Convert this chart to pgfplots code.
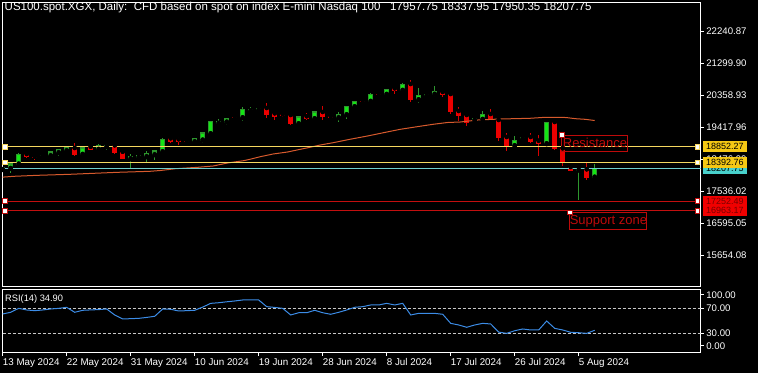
\documentclass[border=0pt]{standalone}
\usepackage{fontspec}
\setmainfont{Liberation Sans}
\usepackage{pgfplots}
\pgfplotsset{compat=1.18}
\usepackage{pgfplotstable}

\definecolor{wickG}{RGB}{45,150,45}
\definecolor{bodyG}{RGB}{20,230,20}
\definecolor{candR}{RGB}{235,0,0}
\definecolor{wickR}{RGB}{215,0,0}
\definecolor{maC}{RGB}{215,90,45}
\definecolor{lvlY}{RGB}{245,215,95}
\definecolor{boxY}{RGB}{245,200,20}
\definecolor{lvlC}{RGB}{110,205,205}
\definecolor{boxC}{RGB}{72,209,204}
\definecolor{lvlR}{RGB}{195,15,15}
\definecolor{boxR}{RGB}{240,0,0}
\definecolor{txtR}{RGB}{120,0,0}
\definecolor{annR}{RGB}{190,10,10}
\definecolor{rsiB}{RGB}{60,140,230}
\definecolor{dashG}{RGB}{200,200,200}

\pgfplotstableread{
i O H L C
0 18181.8 18270.2 18137.6 18234.8
1 18217.2 18382.1 18087.6 18343.8
2 18343.8 18667.8 18305.5 18629.5
5 18591.2 18623.6 18573.5 18603.0
6 18588.2 18726.7 18558.8 18697.2
7 18676.6 18776.7 18579.4 18756.1
8 18735.5 18873.9 18688.4 18823.8
10 18629.5 18844.5 18608.9 18815.0
12 18776.7 18923.9 18756.1 18873.9
13 18853.3 18932.8 18756.1 18873.9
16 18499.9 18638.3 18194.8 18558.8
17 18541.1 18588.2 18532.3 18579.4
18 18558.8 18717.8 18402.7 18638.3
19 18617.7 18747.3 18470.4 18726.7
20 18706.0 19100.7 18676.6 19071.2
24 18999.7 19118.4 18962.2 19080.0
25 19050.6 19256.8 18971.1 19256.8
26 19236.1 19610.2 19212.6 19601.3
27 19542.4 19669.1 19462.9 19589.5
28 19580.7 19707.3 19483.5 19689.7
30 19707.3 20013.6 19610.2 19954.7
31 19913.5 20031.3 19854.6 19954.7
32 19942.9 19987.0 19940.0 19984.2
37 19530.6 19766.2 19483.5 19728.0
39 19677.9 19904.7 19619.0 19875.2
42 19707.3 19866.4 19580.7 19807.5
43 19795.7 20060.7 19677.9 20043.1
44 20031.3 20208.0 20013.6 20190.3
46 20190.3 20425.9 20169.7 20396.5
48 20396.5 20561.4 20384.7 20543.7
50 20514.3 20720.4 20493.6 20691.0
52 20237.4 20573.2 20149.1 20367.0
53 20358.2 20405.3 20352.3 20399.4
54 20396.5 20640.9 20317.0 20464.2
59 19639.6 19689.7 19619.0 19669.1
60 19660.2 19895.8 19571.9 19807.5
64 18882.7 19168.4 18873.9 19041.8
65 19091.8 19133.1 19086.0 19127.2
68 18941.6 19580.7 18912.2 19571.9
72 18167.1 18225.0 17274.8 18202.4
74 17957.75 18337.95 17950.35 18207.75
}\greencandles

\pgfplotstableread{
i O H L C
3 18638.3 18697.2 18511.7 18550.0
4 18558.8 18608.9 18470.4 18529.3
9 18815.0 18953.4 18570.6 18617.7
11 18853.3 18859.2 18756.1 18765.0
14 18894.4 18923.9 18647.1 18676.6
15 18706.0 18756.1 18482.2 18499.9
21 19100.7 19130.1 18953.4 18991.7
22 19071.2 19139.0 18912.2 18982.9
23 19026.2 19035.0 18993.8 19002.6
29 19733.8 19757.4 19669.1 19710.3
33 19993.0 20131.4 19707.3 19778.0
34 19836.9 19854.6 19639.6 19728.0
35 19807.5 19816.3 19742.7 19766.2
36 19786.9 19792.8 19483.5 19521.8
38 19748.6 19845.8 19639.6 19660.2
40 19875.2 20051.9 19639.6 19728.0
41 19748.6 19751.5 19707.3 19713.2
45 20208.0 20249.2 20140.3 20169.7
47 20414.1 20443.6 20355.3 20375.9
49 20573.2 20602.6 20414.1 20484.8
51 20699.8 20817.6 20169.7 20237.4
55 20464.2 20514.3 20325.8 20367.0
56 20405.3 20425.9 19807.5 19889.9
57 19904.7 20022.5 19601.3 19766.2
58 19786.9 19795.7 19462.9 19542.4
61 19816.3 19963.6 19639.6 19669.1
62 19639.6 19669.1 19030.0 19118.3
63 19139.0 19265.6 18735.5 18882.7
66 19139.0 19265.6 18971.1 18991.7
67 19030.0 19197.9 18588.2 18932.8
69 19580.7 19610.2 18756.1 18794.4
70 18806.2 18823.8 18276.1 18402.7
71 18255.4 18276.1 18128.8 18146.5
73 18187.7 18393.9 17872.6 17940.3
}\redcandles

\begin{document}
\begin{tikzpicture}[x=1pt,y=1pt]
\fill[black] (0,0) rectangle (758,373);

\begin{axis}[
  at={(2.7pt,86.3pt)}, anchor=south west,
  width=698pt, height=284pt, scale only axis,
  xmin=0, xmax=87.25, ymin=14730.3, ymax=23094.1,
  axis background/.style={fill=black},
  axis line style={white, line width=1pt},
  xtick=\empty,
  ytick={15654.08,16595.05,17536.02,18476.99,19417.96,20358.93,21299.90,22240.87},
  yticklabels={15654.08,16595.05,17536.02,18476.99,19417.96,20358.93,21299.90,22240.87},
  ytick pos=right, yticklabel pos=right, tick align=outside, major tick length=3pt,
  tick style={white, line width=1pt},
  yticklabel style={font=\fontsize{9.6}{10}\selectfont, text=white, anchor=west, inner sep=0pt, xshift=2.5pt},
  scaled y ticks=false,
]
% green wicks
\addplot[only marks, mark=none, forget plot,
  error bars/.cd, y dir=both, y explicit, error mark=none,
  error bar style={line width=1pt, draw=wickG}]
  table[x=i, y=O, y error plus expr=\thisrow{H}-\thisrow{O}, y error minus expr=\thisrow{O}-\thisrow{L}] {\greencandles};
% green body outline
\addplot[only marks, mark=none, forget plot,
  error bars/.cd, y dir=plus, y explicit, error mark=none,
  error bar style={line width=5pt, draw=wickG}]
  table[x=i, y expr=\thisrow{O}-15, y error plus expr=\thisrow{C}-\thisrow{O}+30] {\greencandles};
% green body fill
\addplot[only marks, mark=none, forget plot,
  error bars/.cd, y dir=plus, y explicit, error mark=none,
  error bar style={line width=3pt, draw=bodyG}]
  table[x=i, y expr=\thisrow{O}+15, y error plus expr={max(\thisrow{C}-\thisrow{O}-30,0)}] {\greencandles};
% red wicks
\addplot[only marks, mark=none, forget plot,
  error bars/.cd, y dir=both, y explicit, error mark=none,
  error bar style={line width=1pt, draw=wickR}]
  table[x=i, y=O, y error plus expr=\thisrow{H}-\thisrow{O}, y error minus expr=\thisrow{O}-\thisrow{L}] {\redcandles};
% red bodies
\addplot[only marks, mark=none, forget plot,
  error bars/.cd, y dir=minus, y explicit, error mark=none,
  error bar style={line width=5pt, draw=candR}]
  table[x=i, y=O, y error minus expr=\thisrow{O}-\thisrow{C}] {\redcandles};

% moving average
\addplot[maC, line width=1pt] coordinates {
(-0.3,17952.1) (1.4,17981.6) (4.4,18011.0) (8.4,18040.5) (11.4,18070.0) (14.4,18099.4)
(18.4,18128.8) (19.7,18152.4) (21.6,18205.4) (24.4,18246.6) (26.3,18284.9) (28.1,18373.2)
(30.1,18441.0) (30.9,18482.2) (32.2,18558.8) (33.8,18638.3) (35.6,18697.2) (37.2,18776.7)
(38.4,18835.6) (39.7,18903.4) (41.3,18971.1) (43.4,19071.2) (45.6,19168.4) (47.6,19265.6)
(49.7,19365.7) (51.8,19442.3) (53.8,19513.0) (55.6,19566.0) (57.2,19580.7) (59.4,19639.6)
(62.2,19669.1) (65.9,19689.7) (67.8,19719.2) (70.4,19713.0) (71.6,19678.0) (72.8,19660.2)
(74,19624.8)};

% level lines
\addplot[lvlC, line width=1pt] coordinates {(0,18207.75) (87.25,18207.75)};
\addplot[lvlY, line width=1pt, mark=square*, mark size=2.2pt,
  mark options={fill=white, draw=lvlY, line width=0.8pt}]
  coordinates {(0.29,18852.27) (86.83,18852.27)};
\addplot[lvlY, line width=1pt, mark=square*, mark size=2.2pt,
  mark options={fill=white, draw=lvlY, line width=0.8pt}]
  coordinates {(0.29,18392.76) (86.83,18392.76)};
\addplot[lvlR, line width=1pt, mark=square*, mark size=2.2pt,
  mark options={fill=white, draw=lvlR, line width=0.8pt}]
  coordinates {(0.29,17252.49) (86.83,17252.49)};
\addplot[lvlR, line width=1pt, mark=square*, mark size=2.2pt,
  mark options={fill=white, draw=lvlR, line width=0.8pt}]
  coordinates {(0.29,16963.17) (86.83,16963.17)};

% annotation boxes
\draw[annR, line width=1pt] (axis cs:69.91,19197.9) rectangle (axis cs:78.16,18712.0);
\node[text=annR, font=\fontsize{13}{14}\selectfont, inner sep=0pt] at (axis cs:74.04,18955) {Resistance};
\draw[annR, line width=1pt] (axis cs:70.91,16915.5) rectangle (axis cs:80.53,16414.9);
\node[text=annR, font=\fontsize{13}{14}\selectfont, inner sep=0pt] at (axis cs:75.72,16665) {Support zone};
\addplot[only marks, mark=square*, mark size=2.2pt, mark options={fill=white, draw=annR, line width=0.8pt}]
  coordinates {(69.91,19197.9) (70.91,16915.5)};

\coordinate (Y1) at (axis cs:87.25,18852.27);
\coordinate (Y2) at (axis cs:87.25,18392.76);
\coordinate (C1) at (axis cs:87.25,18207.75);
\coordinate (R1) at (axis cs:87.25,17252.49);
\coordinate (R2) at (axis cs:87.25,16963.17);
\end{axis}

\tikzset{pricebox/.style={inner sep=0pt, minimum width=44pt, minimum height=10.5pt, anchor=west, font=\fontsize{9}{10}\selectfont}}
\node[pricebox, fill=boxC, text=black] at ([xshift=2pt]C1) {18207.75};
\node[pricebox, fill=boxY, text=black] at ([xshift=2pt]Y1) {18852.27};
\node[pricebox, fill=boxY, text=black] at ([xshift=2pt]Y2) {18392.76};
\node[pricebox, fill=boxR, text=txtR] at ([xshift=2pt]R1) {17252.49};
\node[pricebox, fill=boxR, text=txtR] at ([xshift=2pt]R2) {16963.17};

% RSI panel
\begin{axis}[
  at={(2.7pt,20.5pt)}, anchor=south west,
  width=698pt, height=63pt, scale only axis,
  xmin=0, xmax=87.25, ymin=-0.64, ymax=100.16,
  axis background/.style={fill=black},
  axis line style={white, line width=1pt},
  xtick={0,8,16,24,32,40,48,56,64,72},
  xticklabels={13 May 2024,22 May 2024,31 May 2024,10 Jun 2024,19 Jun 2024,28 Jun 2024,8 Jul 2024,17 Jul 2024,26 Jul 2024,5 Aug 2024},
  ytick={9.8,30,70,91.4},
  yticklabels={0.00,30.00,70.00,100.00},
  xtick pos=bottom, ytick pos=right, yticklabel pos=right,
  tick align=outside, major tick length=3pt,
  tick style={white, line width=1pt},
  yticklabel style={font=\fontsize{9.6}{10}\selectfont, text=white, anchor=west, inner sep=0pt, xshift=2.5pt},
  xticklabel style={font=\fontsize{9.8}{10}\selectfont, text=white, anchor=north west, inner sep=0pt, yshift=-3pt},
]
\addplot[dashG, line width=0.8pt, dash pattern=on 3pt off 2pt] coordinates {(0,70) (87.25,70)};
\addplot[dashG, line width=0.8pt, dash pattern=on 3pt off 2pt] coordinates {(0,30) (87.25,30)};
\addplot[rsiB, line width=1pt] coordinates {
(0,61) (1,63.7) (2,70) (3,67.4) (4,66.3) (5,67.4) (6,69) (7,70) (8,71.6) (9,63.7)
(10,66.9) (11,67.5) (12,68) (13,69) (14,59.4) (15,53) (16,53.5) (17,54) (18,55.5) (19,57.3)
(20,69) (21,68.5) (22,65.8) (23,66.3) (24,66.9) (25,72) (26,78) (27,79) (28,80.5) (29,81.8)
(30,83.4) (31,83.4) (32,83.4) (33,72.7) (34,71.5) (35,70) (36,59.4) (37,63) (38,63) (39,66.9)
(40,63) (41,60.5) (42,63.7) (43,67.4) (44,71.7) (45,72.7) (46,75.4) (47,75.4) (48,78) (49,75.4)
(50,78) (51,59.4) (52,62) (53,62) (54,62) (55,60.5) (56,46) (57,43.4) (58,39.7) (59,43.4)
(60,46) (61,45) (62,32) (63,30) (64,34.2) (65,37) (66,35.4) (67,35.4) (68,49.8) (69,38)
(70,35.4) (71,31.7) (72,31) (73,30) (74,34.9)};
\end{axis}

\node[anchor=west, text=white, inner sep=0pt, font=\fontsize{11.5}{12}\selectfont]
  at (4.5,365) {US100.spot.XGX, Daily:\ \ CFD based on spot on index E-mini Nasdaq 100\ \ \ 17957.75 18337.95 17950.35 18207.75};
\node[anchor=west, text=white, inner sep=0pt, font=\fontsize{9.3}{10}\selectfont]
  at (5,74) {RSI(14) 34.90};
\end{tikzpicture}
\end{document}
